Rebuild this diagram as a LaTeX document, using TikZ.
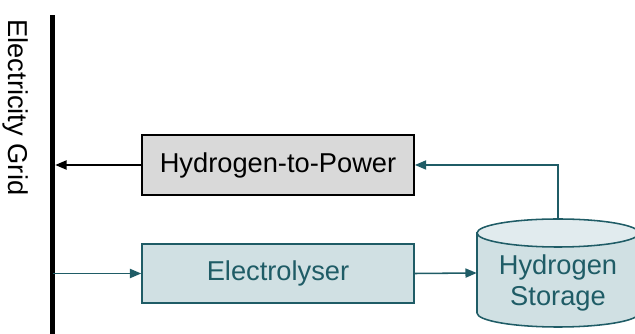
\documentclass[tikz,border=0pt]{standalone}
\usepackage{fontspec}
\setmainfont{Liberation Sans}
\usetikzlibrary{arrows.meta}

\definecolor{hteal}{RGB}{31,92,102}
\definecolor{hbody}{RGB}{208,224,227}
\definecolor{hcap}{RGB}{225,235,238}
\definecolor{hgrey}{RGB}{217,217,217}

\begin{document}
\begin{tikzpicture}[
    unit/.style={draw, line width=1.3pt, minimum width=6.8cm, minimum height=1.5cm,
      inner sep=0pt, font=\fontsize{19.4}{22}\selectfont},
    flow/.style={line width=1.1pt, -{Triangle[length=8pt,width=6.5pt]}}
  ]
  \useasboundingbox (0,0) rectangle (15.875,8.35);

  % the grid: one thick bar on the left, label turned sideways
  \node[fill=black, inner sep=0pt, minimum width=0.125cm, minimum height=7.975cm]
    (grid) at (1.3125,3.9875) {};
  \node[rotate=-90, anchor=west, inner sep=0pt, font=\fontsize{19.4}{22}\selectfont]
    (gridlbl) at (0.4,7.87) {Electricity Grid};

  % conversion units
  \node[unit, fill=hgrey] (h2p) at (6.95,4.225) {Hydrogen-to-Power};
  \node[unit, draw=hteal, fill=hbody, text=hteal, line width=1.1pt,
    minimum height=1.475cm] (elec) at (6.95,1.5125) {Electrolyser};

  % storage tank, body first and then the lid
  \draw[hteal, line width=1.1pt, fill=hbody]
    (11.925,2.525) -- (11.925,0.525)
    arc[start angle=180, end angle=360, x radius=2.025, y radius=0.35]
    -- (15.975,2.525) -- cycle;
  \draw[hteal, line width=1.1pt, fill=hcap]
    (13.95,2.525) ellipse [x radius=2.025, y radius=0.35];
  \node[inner sep=0pt, minimum width=4.05cm, minimum height=2.7cm]
    (stor) at (13.95,1.525) {};
  \node[align=center, text=hteal, inner sep=0pt, font=\fontsize{19.4}{22}\selectfont]
    (storlbl) at (13.95,1.27) {Hydrogen\\Storage};

  % energy flows
  \draw[flow] (h2p.west) -- (h2p.west -| grid.east);
  \draw[flow, hteal] (grid.center |- elec.west) -- (elec.west);
  \draw[flow, hteal] (elec.east) -- (stor.west);
  \draw[flow, hteal] (stor.north) |- (h2p.east);

\end{tikzpicture}
\end{document}
